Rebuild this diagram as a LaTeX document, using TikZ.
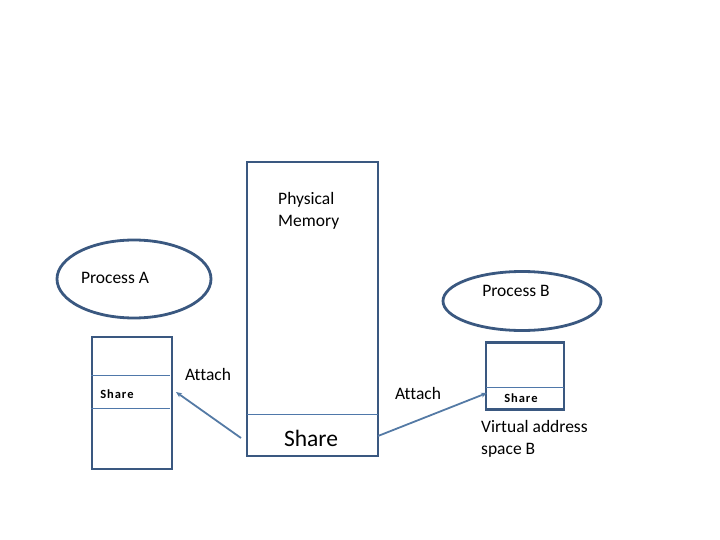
\documentclass[tikz,border=0pt]{standalone}
\usepackage{fontspec}
\setmainfont[Ligatures=NoCommon]{Carlito}
\usetikzlibrary{shapes.geometric,arrows.meta}
\definecolor{edge}{RGB}{58,88,128}
\definecolor{thin}{RGB}{79,120,170}
\definecolor{arr}{RGB}{84,122,165}
\newcommand{\spc}{\hspace{0.9pt}}
\tikzset{
  box/.style={draw=edge, line width=2.8pt, inner sep=0pt},
  oval/.style={ellipse, draw=edge, line width=2.8pt, inner sep=0pt},
  divider/.style={draw=thin, line width=0.9pt},
  link/.style={draw=arr, line width=1.8pt, -{Stealth[length=6pt,width=5pt]}},
  lbl/.style={font=\fontsize{17.5}{22}\selectfont, inner sep=0pt},
  small/.style={inner sep=0pt, font=\fontsize{12.5}{15}\selectfont\bfseries},
}
\begin{document}
\begin{tikzpicture}[x=1pt,y=-1pt]
\useasboundingbox (0,0) rectangle (720,540);
% physical memory
\node[box, minimum width=131pt, minimum height=294pt] (pm) at (312.5,309) {};
\draw[divider] (247,414) coordinate (pmd1) -- (378,414) coordinate (pmd2);
\node[lbl, anchor=west, align=left] (pmt) at (278,211) {Physical\\Memory};
\node[inner sep=0pt, font=\fontsize{23.5}{28}\selectfont] (pms) at (311,438) {Share};
% process A
\node[oval, minimum width=154pt, minimum height=78pt] (pa) at (134,279) {};
\node[lbl] (pat) at (115,278) {Process A};
\node[box, minimum width=80pt, minimum height=132pt] (va) at (132,403) {};
\draw[divider] (91,375) coordinate (vad1) -- (170,375) coordinate (vad2);
\draw[divider] (91,408) coordinate (vad3) -- (170,408) coordinate (vad4);
\node[small] (vas) at (117,394) {S\spc h\spc a\spc r\spc e};
% process B
\node[oval, minimum width=158pt, minimum height=59pt] (pb) at (522,301) {};
\node[lbl] (pbt) at (516,291) {Process B};
\node[box, minimum width=78pt, minimum height=67pt] (vb) at (525,376) {};
\draw[divider] (486,387) coordinate (vbd1) -- (564,387) coordinate (vbd2);
\node[small] (vbs) at (521,398) {S\spc h\spc a\spc r\spc e};
\node[lbl, anchor=west, align=left] (vbt) at (481,439) {Virtual address\\space B};
% attach arrows
\coordinate (a1s) at (241,438);
\coordinate (a1e) at (176,392);
\coordinate (a2s) at (378,436);
\coordinate (a2e) at (487,393);
\draw[link] (a1s) -- (a1e);
\draw[link] (a2s) -- (a2e);
\node[lbl] (at1) at (208,374) {Attach};
\node[lbl] (at2) at (418,393) {Attach};
\end{tikzpicture}
\end{document}
